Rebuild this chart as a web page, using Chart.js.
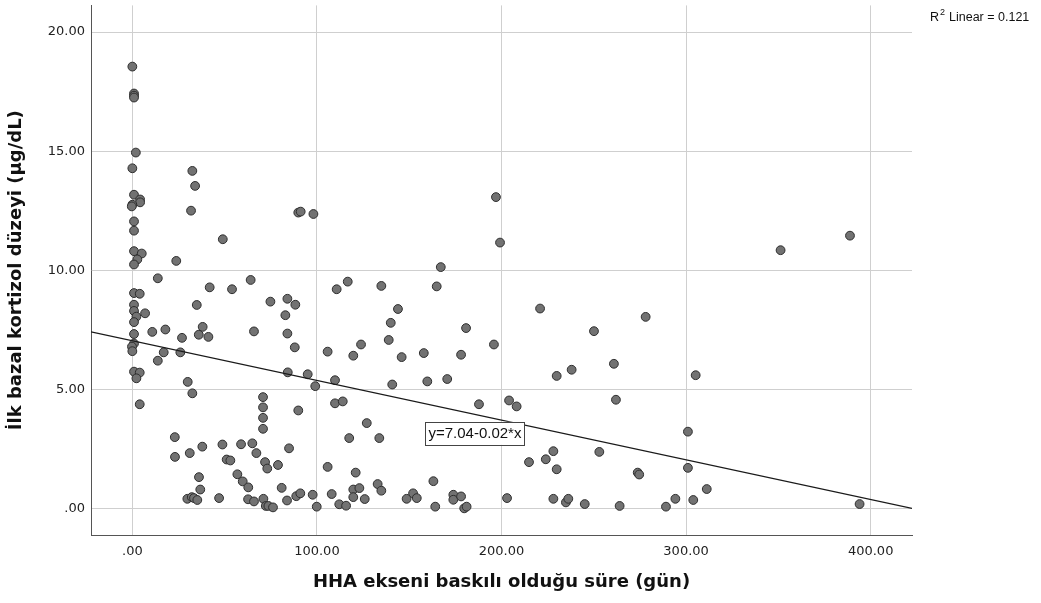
<!DOCTYPE html>
<html>
<head>
<meta charset="utf-8">
<script src="https://cdn.jsdelivr.net/npm/chart.js@4"></script>
<style>
  body { margin: 0; background: #fff; }
  #wrap { width: 1041px; height: 603px; }
</style>
</head>
<body>
<div id="wrap"><canvas id="chart" width="1041" height="603"></canvas></div>
<script>
// HHA ekseni baskili oldugu sure (gun)
const sureGun = [
  0, 0.9, 0.9, 0.9, 1.9, 0, 0.9, 4.2, 4.2, 0, -0.3, 0.9, 0.9, 0.9, 5.1, 2.7, 0.9, 0.9, 4.0, 0.9,
  0.9, 2.2, 6.9, 0.9, 0.9, 0.9, -0.2, 0, 0.9, 4.0, 2.2, 4.0,
  10.8, 13.8, 13.8, 17.0, 17.9, 23.0, 23.1, 23.8, 26.0, 26.9, 29.8, 30.0, 31.1, 31.8, 32.2, 32.5, 32.5, 33.4,
  34.0, 34.9, 35.2, 36.0, 36.1, 36.8, 37.9, 38.1, 41.2, 41.9, 47.0, 48.8, 49.0, 51.1, 53.1, 54.0, 56.9, 58.9, 59.8,
  62.8, 62.7, 64.1, 65.0, 65.9, 65.9, 67.2, 70.8, 70.8, 70.8, 70.8, 71.0, 71.9, 72.3, 73.1, 73.7, 74.8, 76.2,
  78.9, 80.9, 82.9, 83.8, 84.0, 84.0, 84.2, 84.9, 88.0, 88.3, 88.8, 89.9, 89.9, 91.0, 91.2, 95.0, 97.7, 98.1,
  99.1, 99.9, 105.8, 105.8, 108.0, 109.8, 109.8, 110.7, 112.1, 114.0, 115.8, 116.7, 117.5, 119.7, 119.7, 119.7,
  121.0, 123.0, 123.9, 125.9,
  127.0, 132.9, 133.8, 134.9, 134.9, 138.9, 140.0, 140.8, 143.9, 145.9, 148.6, 152.1, 154.1, 157.9, 159.8, 163.1,
  164.1, 164.9, 167.1, 170.6, 173.9, 173.9, 178.1, 178.1, 179.8, 181.1, 180.8, 187.8, 195.9, 197.0, 199.2,
  203.0, 204.1, 208.2, 214.9, 220.9, 224.0, 228.1, 228.1, 229.9, 229.9, 234.9, 236.2, 238.0, 245.1, 250.1, 253.0,
  260.9, 262.0, 264.0, 273.8, 274.6, 278.1, 289.1, 294.2, 301.0, 301.0, 303.9, 305.2, 311.2, 351.2, 388.8, 394.0
];
// Ilk bazal kortizol duzeyi (ug/dL)
const kortizol = [
  18.55, 17.42, 17.33, 17.25, 14.94, 14.28, 13.17, 12.97, 12.85, 12.75, 12.68, 12.05, 11.66, 10.80, 10.70, 10.45, 10.24, 9.04, 9.01, 8.55,
  8.29, 8.05, 8.19, 7.82, 7.32, 6.92, 6.79, 6.60, 5.74, 5.70, 5.46, 4.37,
  7.41, 9.66, 6.20, 6.55, 7.51, 2.99, 2.16, 10.39, 6.55, 7.16, 0.40, 5.31, 2.32, 12.50, 0.47, 14.17, 4.83, 0.43,
  13.54, 8.54, 0.35, 7.29, 1.31, 0.79, 2.59, 7.62, 7.20, 9.28, 0.43, 2.68, 11.30, 2.05, 2.01, 9.20, 1.43, 2.69, 1.13,
  0.88, 0.38, 9.59, 2.73, 7.43, 0.29, 2.32, 4.67, 4.24, 3.80, 3.34, 0.40, 1.94, 0.10, 1.67, 0.10, 8.68, 0.04,
  1.82, 0.86, 8.11, 0.33, 8.80, 7.34, 5.71, 2.52, 6.76, 8.55, 0.51, 12.42, 4.11, 0.63, 12.46, 5.63, 0.57, 12.36,
  5.13, 0.07, 6.58, 1.74, 0.60, 5.38, 4.41, 9.20, 0.17, 4.49, 0.11, 9.52, 2.95, 6.41, 0.79, 0.47,
  1.50, 0.85, 6.88, 0.39,
  3.58, 1.02, 2.95, 0.74, 9.34, 7.07, 7.79, 5.20, 8.37, 6.35, 0.40, 0.63, 0.43, 6.52, 5.33, 1.14,
  0.07, 9.32, 10.13, 5.43, 0.57, 0.36, 0.50, 6.45, 0.00, 0.07, 7.57, 4.37, 6.88, 13.07, 11.16,
  0.43, 4.53, 4.28, 1.94, 8.39, 2.06, 2.40, 0.40, 1.64, 5.56, 0.25, 0.40, 5.82, 0.18, 7.44, 2.37,
  6.07, 4.56, 0.10, 1.50, 1.42, 8.04, 0.07, 0.40, 3.22, 1.70, 0.35, 5.59, 0.81, 10.84, 11.45, 0.18
];

const xTicks = [0, 100, 200, 300, 400];
const yTicks = [0, 5, 10, 15, 20];
const xRange = [-22.4, 422.4];
const yRange = [-1.12, 21.12];

// fit line as printed on the chart
const fitIntercept = 7.04;
const fitSlope = -0.01667;
const fitLabel = "y=7.04-0.02*x";
const fitLabelAt = [185.6, 3.15];
const r2Text = "0.121";

const points = sureGun.map((x, i) => ({ x: x, y: kortizol[i] }));
const fitLine = xRange.map((x) => ({ x: x, y: fitIntercept + fitSlope * x }));

function fmt(v) {
  return v === 0 ? ".00" : v.toFixed(2);
}

function noEdgePad(s) {
  s.paddingTop = 0;
  s.paddingBottom = 0;
  s.paddingLeft = 0;
  s.paddingRight = 0;
}

const annotations = {
  id: "annotations",
  afterDatasetsDraw(chart) {
    const ctx = chart.ctx;
    const xs = chart.scales.x;
    const ys = chart.scales.y;
    ctx.save();
    // equation box
    ctx.font = "15px 'Liberation Sans'";
    const cx = xs.getPixelForValue(fitLabelAt[0]);
    const cy = ys.getPixelForValue(fitLabelAt[1]);
    const w = ctx.measureText(fitLabel).width + 6;
    const h = 23;
    ctx.fillStyle = "#fff";
    ctx.fillRect(cx - w / 2, cy - h / 2, w, h);
    ctx.strokeStyle = "#444";
    ctx.lineWidth = 1;
    ctx.strokeRect(Math.round(cx - w / 2) + 0.5, Math.round(cy - h / 2) + 0.5, Math.round(w), h);
    ctx.fillStyle = "#111";
    ctx.textAlign = "center";
    ctx.textBaseline = "middle";
    ctx.fillText(fitLabel, cx, cy + 1);
    // R2 note
    ctx.textAlign = "left";
    ctx.textBaseline = "alphabetic";
    ctx.font = "12.5px 'Liberation Sans'";
    let tx = 930;
    ctx.fillText("R", tx, 21);
    tx += ctx.measureText("R").width;
    ctx.font = "9px 'Liberation Sans'";
    ctx.fillText("2", tx + 1, 15);
    tx += ctx.measureText("2").width + 5;
    ctx.font = "12.5px 'Liberation Sans'";
    ctx.fillText("Linear = " + r2Text, tx, 21);
    ctx.restore();
  },
};

const ctx = document.getElementById("chart").getContext("2d");
new Chart(ctx, {
  type: "scatter",
  data: {
    datasets: [
      {
        type: "line",
        label: "fit",
        data: fitLine,
        borderColor: "#1a1a1a",
        borderWidth: 1.2,
        pointRadius: 0,
        fill: false,
        order: 0,
      },
      {
        label: "kortizol",
        data: points,
        backgroundColor: "#727272",
        borderColor: "#2e2e2e",
        borderWidth: 1,
        pointRadius: 4.4,
        order: 1,
      },
    ],
  },
  options: {
    responsive: false,
    animation: false,
    layout: { padding: { top: 3, right: 129, left: 0, bottom: 0 } },
    plugins: {
      legend: { display: false },
      tooltip: { enabled: false },
    },
    scales: {
      x: {
        type: "linear",
        min: xRange[0],
        max: xRange[1],
        afterBuildTicks: (s) => { s.ticks = xTicks.map((v) => ({ value: v })); },
        ticks: { callback: fmt, color: "#222", font: { family: "DejaVu Sans", size: 13 }, padding: 9, maxRotation: 0 },
        grid: { color: "#cfcfcf", lineWidth: 1, drawTicks: false },
        border: { color: "#555", width: 1 },
        title: {
          display: true,
          text: "HHA ekseni baskılı olduğu süre (gün)",
          color: "#111",
          font: { family: "DejaVu Sans", size: 18, weight: "bold" },
          padding: { top: 10, bottom: 10 },
        },
        afterFit: (s) => { s.height = 68; noEdgePad(s); },
      },
      y: {
        type: "linear",
        min: yRange[0],
        max: yRange[1],
        afterBuildTicks: (s) => { s.ticks = yTicks.map((v) => ({ value: v })); },
        ticks: { callback: fmt, color: "#222", font: { family: "DejaVu Sans", size: 13 }, padding: 6 },
        grid: { color: "#cfcfcf", lineWidth: 1, drawTicks: false },
        border: { color: "#555", width: 1 },
        title: {
          display: true,
          text: "İlk bazal kortizol düzeyi (µg/dL)",
          color: "#111",
          font: { family: "DejaVu Sans", size: 18, weight: "bold" },
          padding: { top: 6, bottom: 4 },
        },
        afterFit: (s) => { s.width = 91; noEdgePad(s); },
      },
    },
  },
  plugins: [annotations],
});
</script>
</body>
</html>
